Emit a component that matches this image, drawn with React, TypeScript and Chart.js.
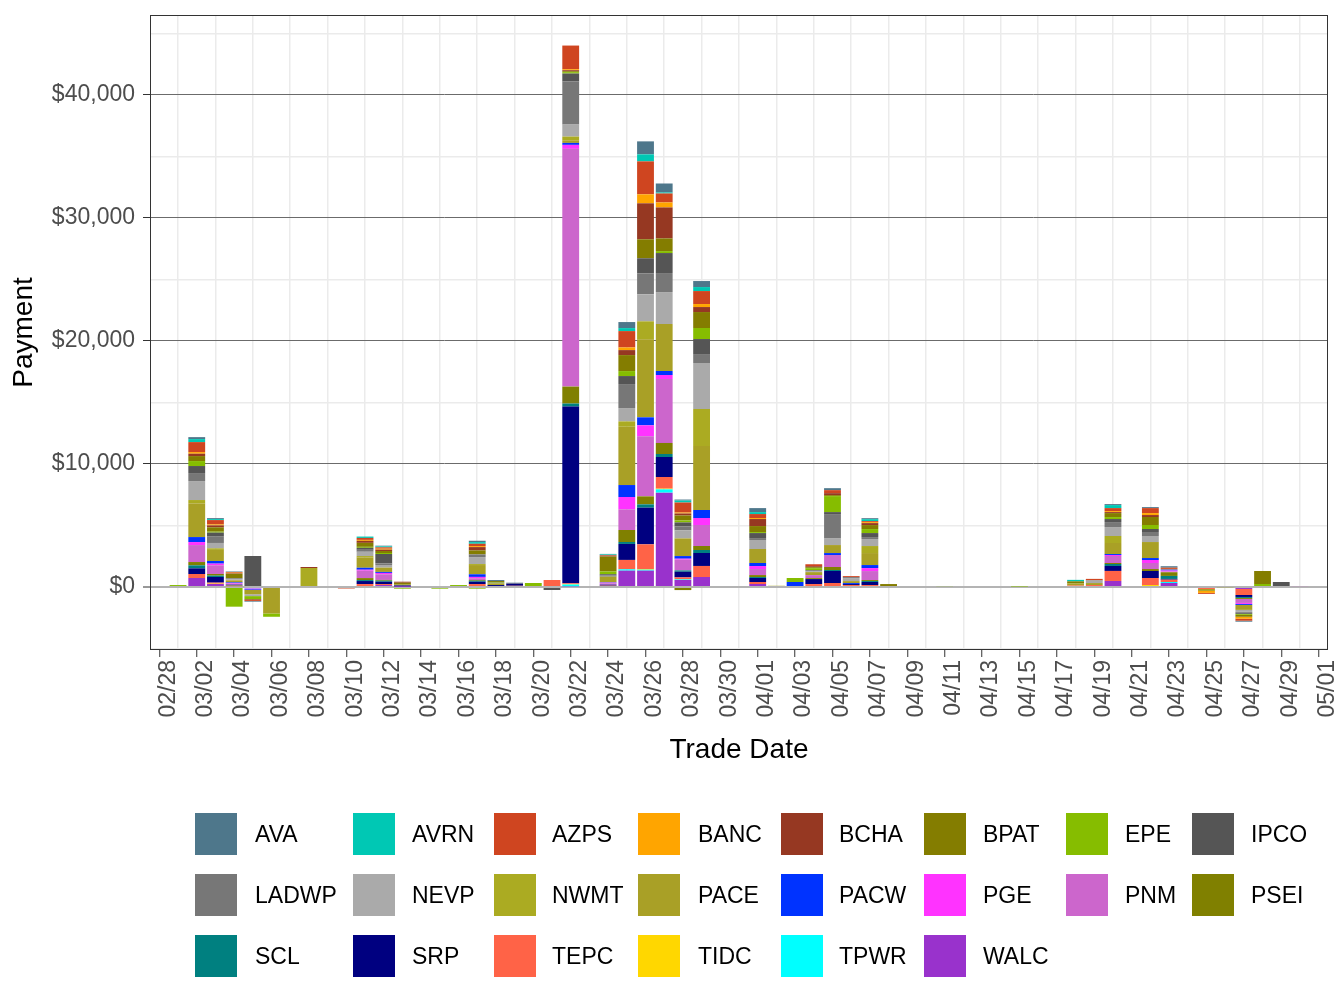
import { useEffect, useRef } from "react";
import { Chart, registerables } from "chart.js";

Chart.register(...registerables);

const FONT = '"Liberation Sans", Arial, Helvetica, sans-serif';

// Categories (trade dates)
const dates = [
  "02/28",
  "03/01","03/02","03/03","03/04","03/05","03/06","03/07","03/08","03/09","03/10",
  "03/11","03/12","03/13","03/14","03/15","03/16","03/17","03/18","03/19","03/20",
  "03/21","03/22","03/23","03/24","03/25","03/26","03/27","03/28","03/29","03/30","03/31",
  "04/01","04/02","04/03","04/04","04/05","04/06","04/07","04/08","04/09","04/10",
  "04/11","04/12","04/13","04/14","04/15","04/16","04/17","04/18","04/19","04/20",
  "04/21","04/22","04/23","04/24","04/25","04/26","04/27","04/28","04/29","04/30",
  "05/01",
];

const xTickLabels = [
  "02/28","03/02","03/04","03/06","03/08","03/10","03/12","03/14","03/16","03/18",
  "03/20","03/22","03/24","03/26","03/28","03/30","04/01","04/03","04/05","04/07",
  "04/09","04/11","04/13","04/15","04/17","04/19","04/21","04/23","04/25","04/27",
  "04/29","05/01",
];

const yTicks = [0, 10000, 20000, 30000, 40000];
const yTickLabels = ["$0", "$10,000", "$20,000", "$30,000", "$40,000"];
const yGridValues = [-5000, 0, 5000, 10000, 15000, 20000, 25000, 30000, 35000, 40000, 45000];
const yMin = -5122;
const yMax = 46504;

// Series values (payment per trade date, $)
const AVA = {"03/02":160,"03/03":80,"03/04":40,"03/05":-60,"03/12":55,"03/17":110,"03/18":80,"03/19":30,"03/24":40,"03/25":490,"03/26":1055,"03/27":730,"03/28":80,"03/29":490,"04/01":325,"04/05":160,"04/07":80,"04/20":80,"04/22":80,"04/23":120,"04/27":-80};
const AVRN = {"03/02":245,"03/03":80,"03/11":110,"03/12":80,"03/17":135,"03/24":60,"03/25":245,"03/26":570,"03/27":80,"03/28":160,"03/29":325,"04/01":160,"04/07":160,"04/18":120,"04/20":245};
const AZPS = {"03/02":810,"03/03":350,"03/04":60,"03/05":-80,"03/10":-120,"03/11":160,"03/12":110,"03/17":190,"03/22":1925,"03/24":50,"03/25":1330,"03/26":2680,"03/27":730,"03/28":815,"03/29":1055,"04/01":325,"04/04":160,"04/05":245,"04/06":80,"04/07":80,"04/19":110,"04/20":245,"04/22":405,"04/23":100,"04/25":-80,"04/27":-160};
const BANC = {"03/02":135,"03/03":80,"03/04":50,"03/11":80,"03/12":80,"03/17":80,"03/22":80,"03/25":215,"03/26":730,"03/27":405,"03/28":80,"03/29":245,"04/01":80,"04/07":80,"04/20":80,"04/22":160,"04/23":50,"04/25":-160,"04/27":-160};
const BCHA = {"03/02":190,"03/03":160,"03/04":40,"03/05":-60,"03/08":80,"03/11":160,"03/12":110,"03/13":80,"03/17":270,"03/22":80,"03/24":60,"03/25":405,"03/26":2925,"03/27":2520,"03/28":160,"03/29":405,"04/01":570,"04/04":80,"04/05":160,"04/07":160,"04/20":80,"04/22":160};
const BPAT = {"03/02":405,"03/03":350,"03/04":350,"03/11":325,"03/12":160,"03/13":160,"03/17":325,"03/18":80,"03/22":80,"03/24":1220,"03/25":1300,"03/26":1545,"03/27":1030,"03/28":405,"03/29":1300,"04/01":490,"04/04":80,"04/05":80,"04/07":325,"04/08":160,"04/18":170,"04/20":325,"04/22":650,"04/27":-160,"04/28":1055};
const EPE = {"03/01":160,"03/02":405,"03/03":80,"03/04":-1600,"03/05":-250,"03/06":-270,"03/11":80,"03/12":80,"03/13":-135,"03/15":-135,"03/16":160,"03/17":-135,"03/18":55,"03/20":245,"03/22":110,"03/24":220,"03/25":405,"03/27":160,"03/28":160,"03/29":895,"04/01":80,"04/03":325,"04/04":160,"04/05":1300,"04/07":325,"04/11":70,"04/15":40,"04/20":160,"04/22":325,"04/27":-80,"04/28":245};
const IPCO = {"03/02":570,"03/03":325,"03/04":40,"03/05":2520,"03/11":160,"03/12":760,"03/21":-245,"03/22":650,"03/24":100,"03/25":650,"03/26":1220,"03/27":1625,"03/28":325,"03/29":1220,"04/01":405,"04/05":160,"04/07":325,"04/08":80,"04/20":245,"04/22":245,"04/27":-80,"04/29":405};
const LADWP = {"03/02":650,"03/03":515,"03/04":60,"03/11":160,"03/12":135,"03/17":215,"03/18":55,"03/19":50,"03/22":3500,"03/24":100,"03/25":1950,"03/26":1710,"03/27":1545,"03/28":325,"03/29":730,"04/01":160,"04/04":80,"04/05":1950,"04/06":80,"04/07":160,"04/19":40,"04/20":405,"04/22":325,"04/27":-80};
const NEVP = {"03/02":1545,"03/03":435,"03/04":80,"03/05":-150,"03/11":350,"03/12":215,"03/17":570,"03/22":975,"03/25":1085,"03/26":2195,"03/27":2600,"03/28":650,"03/29":3740,"04/01":730,"04/04":80,"04/05":570,"04/06":245,"04/07":570,"04/19":190,"04/20":730,"04/22":490,"04/27":-160};
const NWMT = {"03/02":270,"03/03":130,"03/08":1545,"03/11":110,"03/17":80,"03/22":300,"03/25":435,"03/26":1465,"03/29":3010,"04/02":100,"04/07":570,"04/20":570,"04/21":-80,"04/26":-60};
const PACE = {"03/02":2740,"03/03":900,"03/04":160,"03/05":-350,"03/06":-2150,"03/11":840,"03/12":350,"03/13":60,"03/17":750,"03/18":135,"03/22":215,"03/24":460,"03/25":4740,"03/26":6340,"03/27":3820,"03/28":1435,"03/29":5200,"04/01":1140,"04/04":245,"04/05":650,"04/06":160,"04/07":975,"04/18":170,"04/19":160,"04/20":895,"04/22":1300,"04/25":-160,"04/27":-405};
const PACW = {"03/02":405,"03/03":215,"03/04":50,"03/05":-60,"03/11":160,"03/12":80,"03/17":215,"03/22":160,"03/24":30,"03/25":975,"03/26":650,"03/27":325,"03/28":215,"03/29":650,"04/01":245,"04/03":405,"04/05":160,"04/06":80,"04/07":245,"04/20":80,"04/22":160,"04/23":80,"04/27":-80};
const PGE = {"03/02":245,"03/03":135,"03/04":60,"03/05":-80,"03/11":80,"03/12":110,"03/17":110,"03/22":325,"03/24":50,"03/25":1000,"03/26":895,"03/27":325,"03/28":80,"03/29":570,"04/01":245,"04/07":245,"04/20":80,"04/22":245,"04/23":80,"04/27":-80};
const PNM = {"03/02":1380,"03/03":705,"03/04":80,"03/11":600,"03/12":460,"03/17":140,"03/22":19325,"03/24":110,"03/25":1680,"03/26":4880,"03/27":5200,"03/28":870,"03/29":1705,"04/01":490,"04/04":240,"04/05":975,"04/07":730,"04/20":570,"04/22":490,"04/23":60,"04/27":-325,"04/30":70};
const PSEI = {"03/02":270,"03/03":135,"03/11":160,"03/12":65,"03/17":60,"03/22":1380,"03/25":975,"03/26":650,"03/27":895,"03/28":-250,"03/29":325,"04/01":160,"04/04":80,"04/05":245,"04/07":80,"04/20":80,"04/22":160,"04/23":300,"04/27":-80};
const SCL = {"03/02":245,"03/03":110,"03/11":80,"03/12":80,"03/17":80,"03/22":245,"03/25":160,"03/26":270,"03/27":245,"03/28":110,"03/29":245,"04/01":80,"04/05":80,"04/07":80,"04/20":160,"04/23":245,"04/27":-80};
const SRP = {"03/02":460,"03/03":460,"03/04":80,"03/11":245,"03/12":190,"03/13":100,"03/17":190,"03/18":160,"03/19":170,"03/22":14365,"03/24":80,"03/25":1300,"03/26":2980,"03/27":1625,"03/28":460,"03/29":1055,"04/01":325,"04/04":405,"04/05":975,"04/06":80,"04/07":245,"04/20":405,"04/22":570,"04/23":60,"04/27":-160};
const TEPC = {"03/02":325,"03/03":80,"03/11":160,"03/12":80,"03/17":160,"03/19":100,"03/20":80,"03/21":570,"03/22":60,"03/24":30,"03/25":760,"03/26":2005,"03/27":950,"03/28":160,"03/29":895,"04/01":160,"04/04":160,"04/05":245,"04/06":160,"04/07":80,"04/18":120,"04/19":160,"04/20":815,"04/22":570,"04/23":190,"04/25":-160,"04/27":-490};
const TIDC = {"03/03":30,"03/04":50,"03/22":40,"03/26":55,"03/27":55,"04/22":80};
const TPWR = {"03/05":-100,"03/22":150,"03/25":110,"03/26":80,"03/27":270,"03/28":50,"04/23":80};
const WALC = {"03/02":730,"03/03":245,"03/04":60,"03/11":80,"03/12":160,"03/13":30,"03/17":80,"03/22":55,"03/24":80,"03/25":1330,"03/26":1330,"03/27":7670,"03/28":570,"03/29":815,"04/01":245,"04/04":80,"04/05":80,"04/07":80,"04/20":490,"04/22":80,"04/23":325,"04/27":-160};

// Legend order (top of stack first)
const seriesNames = ["AVA","AVRN","AZPS","BANC","BCHA","BPAT","EPE","IPCO","LADWP","NEVP","NWMT","PACE","PACW","PGE","PNM","PSEI","SCL","SRP","TEPC","TIDC","TPWR","WALC"];
const seriesValues: Record<string, number>[] = [AVA,AVRN,AZPS,BANC,BCHA,BPAT,EPE,IPCO,LADWP,NEVP,NWMT,PACE,PACW,PGE,PNM,PSEI,SCL,SRP,TEPC,TIDC,TPWR,WALC];
const seriesColors = ["#4E778B","#00C8B4","#CF4520","#FFA500","#963822","#847D00","#86BD00","#555555","#777777","#AAAAAA","#ABAB22","#A9A026","#0033FF","#FF33FF","#CC66CC","#808000","#008080","#000080","#FF6347","#FFD700","#00FFFF","#9932CC"];

const legendKeyX = [195, 353, 494, 638, 781, 924, 1066, 1192];
const legendTextX = [255, 412, 552, 698, 839, 983, 1125, 1251];
const legendRowY = [813, 874, 935];

const panelBorder = {
  id: "panelBorder",
  afterDatasetsDraw(chart: any) {
    const { ctx, chartArea } = chart;
    const l = Math.round(chartArea.left);
    const t = Math.round(chartArea.top);
    const r = Math.round(chartArea.right);
    const b = Math.round(chartArea.bottom);
    ctx.save();
    ctx.strokeStyle = "#333333";
    ctx.lineWidth = 1;
    ctx.strokeRect(l + 0.5, t + 0.5, r - l - 1, b - t - 1);
    ctx.restore();
  },
};

export default function App() {
  const canvasRef = useRef<HTMLCanvasElement | null>(null);

  useEffect(() => {
    if (!canvasRef.current) return;
    const datasets = seriesNames
      .map((name, i) => ({
        label: name,
        data: dates.map((d) => {
          const v = seriesValues[i][d];
          return v === undefined ? null : v;
        }),
        backgroundColor: seriesColors[i],
        borderWidth: 0,
        barPercentage: 0.9,
        categoryPercentage: 1,
      }))
      .reverse();

    const chart = new Chart(canvasRef.current, {
      type: "bar",
      data: { labels: dates, datasets },
      plugins: [panelBorder],
      options: {
        animation: false,
        responsive: false,
        maintainAspectRatio: false,
        devicePixelRatio: 1,
        layout: { padding: { top: 15, right: 16, bottom: 241, left: 0 } },
        plugins: { legend: { display: false }, tooltip: { enabled: false } },
        scales: {
          x: {
            type: "category",
            stacked: true,
            offset: true,
            border: { display: false },
            grid: {
              offset: false,
              drawOnChartArea: true,
              color: (ctx: any) => (ctx.index % 2 === 1 ? "#ebebeb" : "rgba(0,0,0,0)"),
              lineWidth: 1.5,
              tickColor: (ctx: any) => (ctx.index % 2 === 0 ? "#333333" : "rgba(0,0,0,0)"),
              tickLength: 7,
              tickWidth: 1,
            },
            ticks: {
              autoSkip: false,
              minRotation: 90,
              maxRotation: 90,
              labelOffset: 9,
              padding: 3,
              color: "#4d4d4d",
              font: { family: FONT, size: 23 },
              callback: (_v: any, i: number) => (xTickLabels.includes(dates[i]) ? dates[i] : ""),
            },
            title: {
              display: true,
              text: "Trade Date",
              color: "#000000",
              font: { family: FONT, size: 28 },
              padding: 0,
            },
            afterFit: (s: any) => {
              s.height = 117;
              s.paddingLeft = 0;
              s.paddingRight = 0;
            },
          },
          y: {
            stacked: true,
            min: yMin,
            max: yMax,
            border: { display: false },
            afterBuildTicks: (s: any) => {
              s.ticks = yGridValues.map((v) => ({ value: v }));
            },
            grid: {
              color: (ctx: any) => {
                const v = ctx.tick ? ctx.tick.value : 0;
                if (v === 0) return "#b4b4b4";
                return yTicks.includes(v) ? "#6b6b6b" : "#ebebeb";
              },
              lineWidth: (ctx: any) => {
                const v = ctx.tick ? ctx.tick.value : 0;
                if (v === 0) return 2;
                return yTicks.includes(v) ? 1 : 1.5;
              },
              tickColor: (ctx: any) => {
                const v = ctx.tick ? ctx.tick.value : 0;
                return yTicks.includes(v) ? "#333333" : "rgba(0,0,0,0)";
              },
              tickLength: 7,
              tickWidth: 1,
            },
            ticks: {
              padding: 8,
              color: "#4d4d4d",
              font: { family: FONT, size: 23 },
              callback: (v: any) => {
                const i = yTicks.indexOf(Number(v));
                return i >= 0 ? yTickLabels[i] : "";
              },
            },
            title: {
              display: true,
              text: "Payment",
              color: "#000000",
              font: { family: FONT, size: 28 },
              padding: { top: 7, bottom: 0 },
            },
            afterFit: (s: any) => {
              s.width = 150;
              s.paddingTop = 0;
              s.paddingBottom = 0;
            },
          },
        },
      } as any,
    });
    return () => chart.destroy();
  }, []);

  const legendItems = seriesNames.map((name, i) => ({
    name,
    color: seriesColors[i],
    col: i % 8,
    row: Math.floor(i / 8),
  }));

  return (
    <div
      style={{
        position: "absolute",
        left: 0,
        top: 0,
        width: 1344,
        height: 1008,
        background: "#ffffff",
        overflow: "hidden",
        fontFamily: FONT,
      }}
    >
      <canvas ref={canvasRef} width={1344} height={1008} style={{ display: "block", width: 1344, height: 1008 }} />
      {legendItems.map((it) => (
        <div key={it.name}>
          <div
            style={{
              position: "absolute",
              left: legendKeyX[it.col],
              top: legendRowY[it.row],
              width: 42,
              height: 42,
              background: it.color,
            }}
          />
          <div
            style={{
              position: "absolute",
              left: legendTextX[it.col],
              top: legendRowY[it.row],
              height: 42,
              lineHeight: "42px",
              fontSize: 23,
              color: "#000000",
              whiteSpace: "nowrap",
            }}
          >
            {it.name}
          </div>
        </div>
      ))}
    </div>
  );
}
